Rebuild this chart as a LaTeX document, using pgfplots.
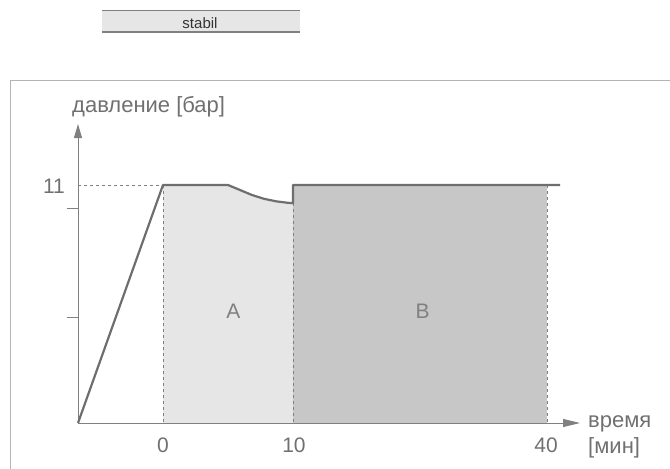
\documentclass[border=0pt]{standalone}
\usepackage{pgfplots}
\pgfplotsset{compat=1.18}
\usepackage{fontspec}
\setmainfont{Liberation Sans}
\usetikzlibrary{arrows.meta}
\definecolor{lineC}{HTML}{6E6E6E}
\definecolor{axC}{HTML}{808080}
\definecolor{txtC}{HTML}{707070}
\definecolor{fillA}{HTML}{E6E6E6}
\definecolor{fillB}{HTML}{C7C7C7}
\definecolor{frameC}{HTML}{B4B4B4}
\begin{document}
\begin{tikzpicture}
\begin{axis}[
  scale only axis, width=670pt, height=469pt,
  xmin=0, xmax=670, ymin=0, ymax=469, y dir=reverse,
  hide axis, clip=false,
]
\coordinate (ll) at (axis cs:0,469);
\coordinate (ur) at (axis cs:670,0);
% frame
\draw[frameC, line width=1pt] (axis cs:10,470) -- (axis cs:10,80) -- (axis cs:671,80);
% stabil box
\fill[fillA] (axis cs:102,10) rectangle (axis cs:300,32);
\draw[axC, line width=1pt] (axis cs:102,10) -- (axis cs:300,10);
\draw[axC, line width=1.2pt] (axis cs:102,32) -- (axis cs:300,32);
\node[font=\fontsize{15}{16}\selectfont, text=black!80, inner sep=0pt, anchor=base] at (axis cs:200,28) {stabil};
% fills
\addplot[fill=fillA, draw=none] coordinates {(163,423) (163,185) (228,185) (240,190) (252,195) (264,198.8) (276,201.3) (288,202.8) (293,203.2) (293,423)} -- cycle;
\addplot[fill=fillB, draw=none] coordinates {(293,423) (293,185) (547,185) (547,423)} -- cycle;
% dashed guides
\draw[axC, dashed, line width=0.6pt] (axis cs:78,185) -- (axis cs:163,185);
\draw[axC, dashed, line width=0.6pt] (axis cs:163,185) -- (axis cs:163,423);
\draw[axC, dashed, line width=0.6pt] (axis cs:293,203) -- (axis cs:293,423);
\draw[axC, dashed, line width=0.6pt] (axis cs:547,185) -- (axis cs:547,423);
% axes
\draw[axC, line width=1pt, -{Triangle[length=14pt,width=8pt]}] (axis cs:78,423) -- (axis cs:78,124);
\draw[axC, line width=1pt, -{Triangle[length=17pt,width=8pt]}] (axis cs:78,423) -- (axis cs:580,423);
\draw[axC, line width=1pt] (axis cs:67,208) -- (axis cs:78,208);
\draw[axC, line width=1pt] (axis cs:67,317) -- (axis cs:78,317);
% curve
\addplot[lineC, line width=2.2pt, line join=round] coordinates {(78,423) (163,185) (228,185) (240,190) (252,195) (264,198.8) (276,201.3) (288,202.8) (293,203.2) (293,185) (560,185)};
% texts
\tikzset{lbl/.style={font=\fontsize{22}{24}\selectfont, text=txtC, inner sep=0pt}}
\tikzset{tk/.style={font=\fontsize{21}{24}\selectfont, text=txtC, inner sep=0pt}}
\node[lbl, anchor=base west] at (axis cs:72,112) {давление [бар]};
\node[tk, anchor=base] at (axis cs:54,193) {11};
\node[tk, anchor=base] at (axis cs:163,452) {0};
\node[tk, anchor=base] at (axis cs:294,452) {10};
\node[tk, anchor=base] at (axis cs:546,452) {40};
\node[lbl, anchor=base west] at (axis cs:588,427) {время};
\node[lbl, anchor=base west] at (axis cs:588,453) {[мин]};
\node[tk, text=axC, anchor=base] at (axis cs:233.5,318) {A};
\node[tk, text=axC, anchor=base] at (axis cs:422.5,318) {B};
\end{axis}
\pgfresetboundingbox
\useasboundingbox (ll) rectangle (ur);
\end{tikzpicture}
\end{document}
